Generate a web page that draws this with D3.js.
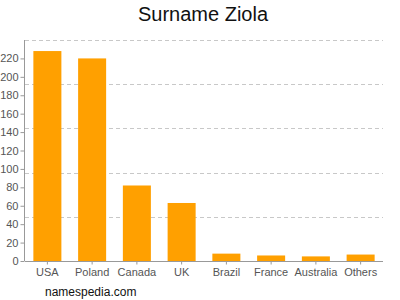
<!DOCTYPE html>
<html><head><meta charset="utf-8">
<script src="https://cdn.jsdelivr.net/npm/d3@7"></script>
<style>body{margin:0;background:#fff}svg{display:block}text{font-family:"Liberation Sans",Arial,sans-serif}</style>
</head><body>
<svg id="c" width="400" height="300"></svg>
<script>
const categories = ["USA","Poland","Canada","UK","Brazil","France","Australia","Others"];
const counts = [228,220,82,63,8,6,5,7];
const yTicks = [0,20,40,60,80,100,120,140,160,180,200,220];
const gridValues = [48,96,144,192,240];
const yMax = 240;
const title = "Surname Ziola";
const source = "namespedia.com";

(function(){
const svg = d3.select("#c");
const pl = 25, pr = 383, pt = 40, pb = 261;
const x = d3.scaleBand().domain(categories).range([pl,pr]).paddingInner(0.374).paddingOuter(0.187);
const y = d3.scaleLinear().domain([0,yMax]).range([pb,pt]);

svg.append("text").attr("x",203).attr("y",21).attr("text-anchor","middle")
  .attr("font-size",20).attr("fill","#111").text(title);

svg.append("g").selectAll("line").data(gridValues).join("line")
  .attr("x1",pl).attr("x2",pr)
  .attr("y1",d=>Math.round(y(d))+0.5).attr("y2",d=>Math.round(y(d))+0.5)
  .attr("stroke","#c8c8c8").attr("stroke-dasharray","4,3").attr("stroke-width",1);

svg.append("g").selectAll("rect").data(counts).join("rect")
  .attr("x",(d,i)=>x(categories[i])).attr("width",x.bandwidth())
  .attr("y",d=>y(d)).attr("height",d=>pb-y(d)).attr("fill","#ffa000");

const ya = svg.append("g").attr("transform",`translate(${pl - 0.5},0)`)
  .call(d3.axisLeft(y).tickValues(yTicks).tickSize(4).tickPadding(2).tickFormat(d3.format("d")));
ya.select(".domain").attr("stroke","#999").attr("d",`M0,${pt}V${pb}`);
ya.selectAll(".tick line").attr("stroke","#999");
ya.selectAll(".tick text").attr("fill","#555").attr("font-size",11).style("font-family","'Liberation Sans',Arial,sans-serif");

const xa = svg.append("g").attr("transform",`translate(0,${pb + 0.5})`)
  .call(d3.axisBottom(x).tickSize(3).tickPadding(4));
xa.select(".domain").attr("stroke","#999").attr("d",`M${pl},0H${pr}`);
xa.selectAll(".tick line").attr("stroke","#999");
xa.selectAll(".tick text").attr("fill","#555").attr("font-size",11).style("font-family","'Liberation Sans',Arial,sans-serif");

svg.append("text").attr("x",45).attr("y",296).attr("font-size",12).attr("fill","#111").text(source);
})();
</script>
</body></html>
